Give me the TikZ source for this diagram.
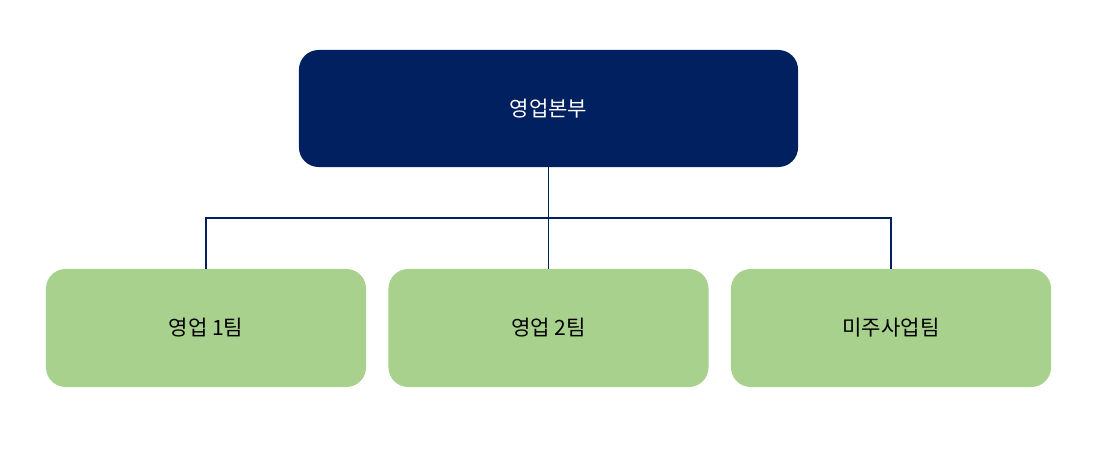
\documentclass[tikz,border=0pt]{standalone}
\usepackage{fontspec}
\newfontfamily\kr{Noto Sans CJK KR}
\usetikzlibrary{positioning}
\definecolor{navy}{HTML}{012060}
\definecolor{leaf}{HTML}{A9D18E}
\tikzstyle{head} = [rectangle, rounded corners=14pt, fill=navy, text=white, minimum width=12.475cm, minimum height=2.925cm, font=\kr\fontsize{15}{18}\selectfont]
\tikzstyle{team} = [rectangle, rounded corners=14pt, fill=leaf, text=black, minimum width=8cm, minimum height=2.95cm, font=\kr\fontsize{15}{18}\selectfont]
\tikzstyle{link} = [draw=navy, line width=1.1pt]

\begin{document}
\begin{tikzpicture}[x=0.025cm, y=-0.025cm]
    \useasboundingbox (0,0) rectangle (1097,451);

        % Nodes
        \node (hq) [head] at (548.5,108.5) {영업본부};
        \node (team1) [team] at (206,328) {영업 1팀};
        \node (team2) [team] at (548.5,328) {영업 2팀};
        \node (team3) [team] at (891,328) {미주사업팀};
        \coordinate (bar) at (548.5,218);

        % Lines
        \draw [link] (hq.south) -- (team2.north);
        \draw [link] (team1.north) |- (bar) -| (team3.north);

\end{tikzpicture}
\end{document}
